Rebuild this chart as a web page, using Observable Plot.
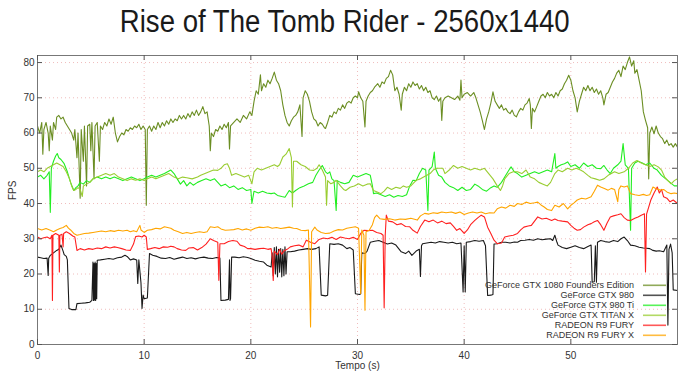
<!DOCTYPE html>
<html><head><meta charset="utf-8">
<script src="https://cdn.jsdelivr.net/npm/d3@7"></script>
<script src="https://cdn.jsdelivr.net/npm/@observablehq/plot@0.6"></script>
<style>
html,body{margin:0;padding:0;background:#fff;}
#wrap{position:relative;width:690px;height:377px;overflow:hidden;font-family:"Liberation Sans",Arial,sans-serif;}
#title{height:45px;text-align:center;white-space:nowrap;}
#title span{display:inline-block;font-size:31px;line-height:31px;padding-top:6px;color:#1a1a1a;transform:scaleX(0.89);transform-origin:center;}
.lg-text{position:absolute;right:56px;font-size:9px;line-height:10px;color:#333;white-space:nowrap;}
#lgsvg{position:absolute;left:0;top:0;pointer-events:none;}
</style></head><body>
<div id="wrap"><div id="title"><span>Rise of The Tomb Rider - 2560x1440</span></div><div id="chart"></div></div>
<script>
const seriesNames = ["GeForce GTX 1080 Founders Edition","GeForce GTX 980","GeForce GTX 980 Ti","GeForce GTX TITAN X","RADEON R9 FURY","RADEON R9 FURY X"];
const seriesColors = ["#6b8e23","#1a1a1a","#22ee22","#9acd32","#ff2020","#ffa500"];
const xTicks = [0,10,20,30,40,50];
const yTicks = [0,10,20,30,40,50,60,70,80];

const gtx1080 = [[0,62],[0.2,60],[0.4,63],[0.5,54],[0.6,61],[0.8,63],[1,60],[1.1,55],[1.2,62],[1.4,58],[1.5,63],[1.7,61],[1.8,64.5],[2,65],[2.2,64],[2.4,64.5],[2.6,63],[2.8,62],[3,61],[3.2,60],[3.4,58],[3.5,61],[3.7,53],[3.8,60],[4,41.5],[4.1,61],[4.3,52],[4.4,62],[4.6,45],[4.7,62],[4.9,62.5],[5,55],[5.1,63],[5.3,47],[5.4,62],[5.6,63],[5.8,52],[5.9,62],[6.1,61],[6.3,63],[6.5,62],[6.7,64],[6.9,62.5],[7.1,64.5],[7.3,60],[7.5,57.5],[7.7,59],[7.9,60],[8.1,59.5],[8.3,61],[8.5,60.5],[8.7,61.5],[8.9,61],[9.1,62],[9.3,61.5],[9.5,62.5],[9.7,61],[9.9,62],[10.1,61],[10.2,39.5],[10.3,61],[10.5,62],[10.7,60.5],[10.9,62],[11.1,61],[11.3,63],[11.5,61.5],[11.7,63],[11.9,62],[12.1,63.5],[12.3,62.5],[12.5,64],[12.7,63],[12.9,64],[13.1,63.5],[13.3,65],[13.5,64],[13.7,65],[13.9,64],[14.1,65.5],[14.3,64.5],[14.5,66],[14.7,65],[14.9,66.5],[15.1,65],[15.3,66],[15.5,67.5],[15.7,65.5],[15.9,66],[16.1,62],[16.2,55],[16.3,60],[16.5,59],[16.7,61],[16.9,60.5],[17.1,62],[17.3,61],[17.5,62.5],[17.7,61.5],[17.9,63],[18,55.5],[18.1,62],[18.4,63],[18.7,64],[19,63],[19.3,65],[19.6,64],[19.9,66],[20.1,65],[20.3,69],[20.5,72],[20.7,71],[20.9,76.5],[21,72],[21.2,74],[21.4,73],[21.6,75],[21.8,74],[22,75.5],[22.2,77.3],[22.4,75],[22.6,74],[22.8,72],[23,68],[23.2,65],[23.4,63],[23.6,62],[23.8,63.5],[24,64.5],[24.2,65],[24.4,66],[24.6,68],[24.8,59],[24.9,70],[25.1,72],[25.3,71],[25.5,69],[25.7,66],[25.9,64],[26.1,63.5],[26.3,62],[26.5,63],[26.7,62.5],[26.9,61.5],[27,61.3],[27.2,63],[27.4,65],[27.6,64.5],[27.8,66],[28,65.5],[28.2,67],[28.4,66.5],[28.6,68],[28.8,67],[29,68.5],[29.2,69],[29.4,68.5],[29.6,70],[29.8,70.5],[30,70],[30.1,71.7],[30.3,70],[30.5,69],[30.7,61.7],[30.8,69],[31,70.5],[31.2,71.5],[31.4,72],[31.6,73],[31.9,74],[32.1,73],[32.3,74.5],[32.5,74],[32.7,75.5],[32.9,76],[33.1,77.8],[33.3,76.5],[33.5,72],[33.7,73],[33.9,71],[34.1,66.5],[34.2,71],[34.4,73],[34.6,72],[34.8,74],[35,73],[35.2,74.5],[35.4,73.5],[35.6,74],[35.8,72.5],[36,73.5],[36.2,72],[36.4,73],[36.6,71.5],[36.8,72],[37,70],[37.2,69.5],[37.4,70.5],[37.6,69],[37.8,70],[37.9,63.6],[38,69],[38.2,70],[38.5,70.5],[38.8,70],[39.1,69.5],[39.4,70.5],[39.6,69.3],[39.7,75],[39.8,70],[40,71],[40.3,71.5],[40.6,70.5],[40.9,71.5],[41.1,70],[41.3,68],[41.5,66],[41.7,63.6],[41.9,61],[42.1,64],[42.3,66],[42.5,68.5],[42.7,71.7],[42.9,69],[43.1,68],[43.3,67],[43.5,68],[43.7,66.5],[43.9,67],[44.1,66],[44.3,65.5],[44.5,66.5],[44.7,65],[44.9,64.6],[45.1,66],[45.3,67],[45.5,66.5],[45.7,68],[45.9,68.5],[46.1,69.8],[46.2,68],[46.3,61.3],[46.4,67],[46.6,66],[46.8,67.5],[47,69],[47.2,70.5],[47.4,71],[47.6,70],[47.8,71.5],[48,70.5],[48.2,71],[48.4,70],[48.6,71.5],[48.8,70.5],[49,72],[49.2,72.5],[49.4,74],[49.6,75],[49.8,76.4],[50,75],[50.2,72],[50.4,70],[50.6,66],[50.8,69],[51,71],[51.2,73],[51.4,72],[51.6,73.5],[51.8,72],[52,73],[52.2,71.5],[52.4,72.5],[52.6,71],[52.8,72],[53,70],[53.1,68],[53.3,71],[53.5,71.5],[53.7,73],[53.9,74.5],[54.1,75.5],[54.3,77],[54.5,77.8],[54.7,76],[54.9,79],[55.1,78],[55.3,80],[55.5,81.6],[55.7,79],[55.9,80.5],[56,77],[56.2,78],[56.4,75],[56.6,72],[56.8,66],[57,63.6],[57.2,61.5],[57.3,47],[57.4,60],[57.6,61.7],[57.8,59.8],[58,62],[58.2,60],[58.4,59],[58.6,58.4],[58.8,57],[59,58],[59.2,56.5],[59.4,57],[59.6,56],[59.8,57],[60,56]];

const gtx980 = [[0,24.8],[0.3,24.6],[0.6,24.4],[0.9,24.5],[1,19.6],[1.05,24.5],[1.2,25.3],[1.5,26],[1.8,26.7],[2,27],[2.2,28.2],[2.4,26.5],[2.5,25.5],[2.7,25],[2.8,24],[2.95,10.2],[3.2,9.9],[3.6,9.9],[3.7,11.6],[4.1,11.7],[4.5,11.8],[4.9,12],[5.1,12.5],[5.2,23.4],[5.25,12.5],[5.3,23],[5.35,12.6],[5.4,23.4],[5.45,12.5],[5.5,23],[5.55,13],[5.6,23.9],[5.9,24],[6.3,24.2],[6.7,24.4],[7.1,24.2],[7.5,24.6],[7.9,24.8],[8.2,25.3],[8.4,25],[8.7,24],[9,24.3],[9.3,24],[9.4,17.3],[9.5,24],[9.7,17.5],[9.8,10.2],[9.9,14],[10,13],[10.3,13.2],[10.5,25.8],[10.8,25.3],[11.2,25],[11.6,24.5],[12,24.4],[12.4,24.7],[12.8,24.2],[13.2,24.5],[13.6,24.8],[14,24.4],[14.4,24.6],[14.8,24.3],[15.2,24.6],[15.6,24.8],[16,24.5],[16.4,24.4],[16.8,24.7],[17.1,24.5],[17.2,12.5],[17.6,12.6],[17.9,12.8],[18,24],[18.05,12.5],[18.1,13],[18.2,24.8],[18.5,24.8],[18.9,24.6],[19.3,24.9],[19.7,24.7],[20,24.4],[20.4,23.9],[20.8,23.6],[21.2,23.4],[21.5,22.5],[21.9,22],[22,26],[22.1,19.5],[22.2,27.5],[22.3,20],[22.4,27.7],[22.5,19.2],[22.6,27],[22.7,20.5],[22.8,27.2],[22.9,19.2],[23,27],[23.1,19.5],[23.2,27.7],[23.3,20],[23.4,26.3],[23.7,26.3],[24.1,26.5],[24.5,26.8],[24.9,27],[25.3,27.2],[25.7,27],[26.1,27.2],[26.4,27.7],[26.6,14],[27,13.8],[27.2,14],[27.4,28.6],[27.8,28.4],[28.2,28.6],[28.6,28.2],[29,27.2],[29.3,27.5],[29.6,26.8],[29.8,14.4],[30.2,14.2],[30.3,14.4],[30.4,26],[30.7,25.8],[30.9,26.5],[31.2,29],[31.6,29.3],[32,29.5],[32.4,29],[32.8,28.5],[33.2,28.8],[33.6,28.2],[34.1,26.3],[34.5,25.8],[34.8,26.5],[35.1,25.3],[35.5,26.5],[35.8,27],[35.9,19.3],[36,28],[36.1,28.6],[36.5,28.8],[36.9,29],[37.3,28.8],[37.7,29.2],[38.1,29],[38.5,28.8],[38.9,29],[39.3,28.6],[39.7,28.8],[39.9,14.9],[40,28],[40.1,14.9],[40.2,29],[40.6,29.2],[41,29.5],[41.4,29.3],[41.8,29.5],[42,28],[42.2,13.9],[42.5,14],[42.7,14.2],[42.8,28.5],[43.1,28.6],[43.5,29],[43.9,29],[44.3,28.8],[44.7,29.1],[45,29],[45.3,29.5],[45.7,29.6],[46.1,29.8],[46.5,29.6],[46.9,30],[47.3,29.7],[47.7,29.9],[48.1,30],[48.3,29.5],[48.5,31],[48.7,29],[48.8,28.2],[49.2,27.5],[49.6,27.2],[50,27.6],[50.4,28],[50.8,27.5],[51.2,27.2],[51.6,27.8],[51.9,28.2],[52,17.7],[52.2,17.8],[52.3,28],[52.4,17.7],[52.5,29],[52.8,29.5],[53.2,29.2],[53.6,29],[54,29.5],[54.4,29.2],[54.7,30],[55,30.5],[55.3,29.5],[55.6,28.2],[56,28],[56.4,27.6],[56.8,27.4],[57.1,27.3],[57.4,27.2],[57.7,26.7],[58,26.5],[58.3,26.6],[58.7,26.3],[59,28.2],[59.1,5.5],[59.2,27],[59.35,28.5],[59.5,26],[59.6,15.5],[60,15.3]];

const gtx980ti = [[0,47.5],[0.3,48],[0.6,47],[0.9,48],[1.1,49],[1.2,37.5],[1.3,50],[1.5,52],[1.7,53.5],[1.85,54.2],[2,53],[2.2,52.5],[2.5,51.3],[2.8,49],[3.1,46],[3.4,43.7],[3.6,44.5],[3.8,45],[4,46],[4.3,45.5],[4.6,46.5],[4.9,46],[5.2,47],[5.6,47.5],[6,47],[6.4,47.5],[6.8,47],[7.2,47.5],[7.6,47],[8,46.5],[8.4,47],[8.8,47.5],[9.2,47],[9.6,46.5],[10,47],[10.3,47.5],[10.7,48],[11.1,47.5],[11.5,48],[11.9,48.5],[12.2,49],[12.5,49.5],[12.8,48.5],[13.1,47],[13.4,45.5],[13.7,46.5],[14,45],[14.3,46],[14.6,45.2],[15,46],[15.4,46.5],[15.8,47],[16.2,46.5],[16.6,47],[16.9,46],[17.2,45],[17.6,45.5],[18,44.5],[18.4,45],[18.8,44],[19.2,44.5],[19.6,43.7],[20,44],[20.1,40],[20.3,43.5],[20.7,43],[21.1,43.5],[21.5,43],[21.9,42.8],[22.2,43],[22.5,42.3],[22.9,42],[23.2,41.8],[23.6,43.7],[23.9,43],[24.2,43.7],[24.6,44.5],[25,45],[25.4,45.6],[25.8,46],[26.1,48],[26.4,49.5],[26.7,50.8],[27,49],[27.2,48.5],[27.4,49],[27.6,47],[27.8,46.5],[28,38],[28.1,46.5],[28.4,46],[28.8,45.6],[29.2,46],[29.6,48],[30,47.5],[30.4,48],[30.8,48.5],[31.2,48],[31.4,45],[31.5,42.8],[31.8,43],[32.2,42.5],[32.6,42],[33,42.5],[33.4,41.8],[33.8,42.3],[34.2,42],[34.6,42.5],[34.9,45],[35.2,46.6],[35.5,46.5],[35.8,48.5],[36.1,50],[36.4,49.5],[36.6,38],[36.7,49.5],[37,50.5],[37.2,54.6],[37.3,50],[37.6,48],[37.9,47.5],[38.2,46],[38.6,45],[39,44.5],[39.4,43.7],[39.8,44.6],[40.2,43.7],[40.6,44],[41,45.5],[41.3,45],[41.7,44],[42.1,43.5],[42.5,44.5],[42.8,45],[43.1,44.6],[43.5,46],[43.9,48],[44.2,49.5],[44.4,50.4],[44.7,49],[45,48.5],[45.4,47.5],[45.8,48],[46.2,48.5],[46.6,49],[47,48.5],[47.4,49],[47.8,49.5],[48.2,49],[48.5,54.2],[48.6,50],[48.8,50.5],[49.1,51],[49.4,51.3],[49.7,51.8],[50,50.5],[50.4,51],[50.8,50],[51.2,51.5],[51.6,50.5],[52,51],[52.4,50],[52.8,49.9],[53.1,50.8],[53.4,49.5],[53.7,48.5],[54,50],[54.4,51],[54.7,52],[54.9,57],[55.1,51],[55.4,50],[55.6,32.4],[55.7,50],[56,51.5],[56.3,52],[56.7,51.5],[57,51],[57.4,51.5],[57.8,50],[58.1,49.5],[58.5,48],[58.9,47],[59.3,46],[59.7,45],[60,45]];

const titanX = [[0,49],[0.3,49.5],[0.6,49],[0.9,50],[1.2,50.5],[1.5,51],[1.8,51.5],[2.1,51],[2.4,50.5],[2.7,49],[3,47],[3.2,45],[3.4,43.7],[3.6,44],[3.8,44.5],[4,44],[4.2,42],[4.3,45],[4.6,45.5],[4.9,46],[5.2,47],[5.6,47.5],[6,48],[6.4,48.5],[6.8,48],[7.2,48.5],[7.6,47.5],[8,47],[8.4,46.5],[8.8,47],[9.2,46.6],[9.6,47],[10,46.5],[10.3,47],[10.7,47.5],[11.1,47],[11.5,47.5],[11.9,48],[12.3,48.5],[12.8,47.5],[13.2,47],[13.6,47.5],[14,47.3],[14.5,47],[15,47.5],[15.3,48],[15.7,48.5],[16.1,49],[16.5,49.5],[16.9,49.4],[17.2,50],[17.5,51],[17.8,51.3],[18,50],[18.2,48],[18.6,48.5],[19,48],[19.4,47.5],[19.8,48],[20.1,45.6],[20.3,49],[20.6,50],[21,49.5],[21.4,50],[21.8,50.5],[22.2,51],[22.5,50.5],[22.7,51],[23,53.2],[23.3,54],[23.6,55.6],[23.8,53],[23.9,39],[24,52],[24.3,52],[24.7,51],[25.1,50.5],[25.5,49.5],[25.9,49.4],[26.2,50],[26.4,51],[26.7,49.5],[27,47.5],[27.1,39.5],[27.2,46.5],[27.5,45.6],[27.8,46],[28,46.6],[28.4,45],[28.7,44],[28.9,43.7],[29.3,44.6],[29.7,45],[30.1,45.6],[30.5,45],[30.9,45.5],[31.2,45.6],[31.5,43.7],[31.9,43.2],[32.2,42.8],[32.5,43.5],[32.8,44.6],[33.2,44],[33.6,44.6],[34,44.3],[34.3,45],[34.6,44.6],[35,45],[35.5,46.6],[35.9,47],[36.2,47.5],[36.5,48],[36.8,48.5],[37.1,49.5],[37.4,50],[37.7,50],[38,50],[38.2,48.5],[38.6,49.5],[39,50.8],[39.4,50],[39.8,50.5],[40.2,50],[40.6,49.5],[41,50],[41.5,49.5],[41.9,50],[42.3,48.5],[42.7,47],[43.1,45],[43.4,43.7],[43.6,45],[43.8,47],[44.2,48.5],[44.6,49],[45,49],[45.4,48.5],[45.8,49.5],[46.2,47.5],[46.6,47],[47,46],[47.4,45.5],[47.8,45],[48.1,46],[48.5,48.5],[48.8,49.5],[49.2,49],[49.7,50],[50.1,49.5],[50.5,50],[50.9,49.5],[51.2,49],[51.6,48],[51.9,47.3],[52.3,47],[52.7,46.6],[53.1,47],[53.5,48],[54.1,49],[54.5,48.5],[55,49],[55.4,50],[55.8,51.5],[56.2,52.2],[56.6,51.5],[57,51],[57.4,50.5],[57.8,51],[58.2,50.4],[58.5,49.5],[58.8,47.5],[59.1,46.5],[59.4,45.6],[59.7,46.5],[60,47]];

const r9Fury = [[0,30.5],[0.3,30],[0.6,30.3],[0.9,30.5],[1.2,30],[1.35,31],[1.4,12.5],[1.45,31],[1.7,31.5],[2,31],[2.05,20.6],[2.1,31],[2.3,31.3],[2.4,27.7],[2.45,31.5],[2.7,32],[3,31.5],[3.3,30.8],[3.5,30.5],[3.7,26.7],[4,27.2],[4.4,26.8],[4.8,27.2],[5.2,27],[5.6,27.4],[6,27.2],[6.4,27.7],[6.8,27.4],[7.2,27.7],[7.5,27.5],[7.9,27.2],[8.3,26.8],[8.7,26.7],[9,28.5],[9.2,30.6],[9.5,30.8],[9.8,30.5],[10,31],[10.2,30.5],[10.3,27],[10.6,27.2],[11,27.5],[11.4,27.2],[11.8,27.7],[12.2,27.6],[12.5,27.9],[12.8,27.7],[13.1,27.2],[13.5,26.8],[13.9,26.7],[14.2,27.4],[14.6,27.5],[15,26.8],[15.4,27.5],[15.8,28.5],[16.2,30],[16.5,29.5],[16.9,29],[17,18.2],[17.1,28.6],[17.5,28.6],[17.9,29.2],[18.3,29.5],[18.7,29.3],[19,28.2],[19.4,27.8],[19.7,27.2],[20,27.2],[20.4,27],[20.8,27.2],[21.2,27.3],[21.6,27],[21.9,27.2],[22,25],[22.1,18.2],[22.2,26.5],[22.5,25.5],[22.7,27],[22.9,25.6],[23.1,26.5],[23.4,27],[23.7,27.7],[24.1,28],[24.5,28.2],[24.9,27.7],[25.2,29.6],[25.6,29],[26,28.6],[26.4,29.8],[26.8,30.2],[27.2,30],[27.6,30.4],[28,29.8],[28.4,30.5],[28.8,30.2],[29.2,30],[29.6,30.4],[30,29.8],[30.3,31.5],[30.6,32.4],[31,32.3],[31.4,32.4],[31.8,31.8],[32.2,31.5],[32.4,31],[32.5,10.4],[32.6,31],[32.7,36.7],[32.9,35],[33.3,34.8],[33.7,34],[34.1,34.3],[34.5,33.5],[34.9,33.4],[35.2,32.4],[35.6,31.6],[35.9,33.5],[36.3,35.3],[36.7,34.8],[37.1,35.3],[37.5,34.5],[37.9,35],[38.3,34.3],[38.7,34.5],[39,33.5],[39.3,32.4],[39.6,32.9],[40,31.5],[40.3,32.5],[40.6,34],[41,35.2],[41.3,36],[41.6,36.7],[41.9,36.2],[42.2,33.3],[42.5,31.5],[42.8,29.6],[43.1,28.6],[43.5,28.8],[43.8,30.5],[44.2,30.8],[44.6,31],[45,31.5],[45.3,32.5],[45.6,33.3],[46,33.6],[46.3,33.8],[46.6,35],[46.9,36.2],[47.3,35.6],[47.7,35.8],[48.2,35.2],[48.5,35.6],[48.8,35.2],[49.2,35],[49.7,34.8],[50,33.8],[50.3,33],[50.6,32.4],[50.9,32.6],[51.2,33.3],[51.6,34],[51.9,34.3],[52.2,34.8],[52.5,35.2],[52.8,34],[53.1,32.4],[53.4,34.5],[53.7,36.2],[54,36.5],[54.4,36.8],[54.7,37.1],[55,36],[55.3,35.3],[55.6,35.2],[56,35.8],[56.3,36.2],[56.6,36.7],[56.9,37.1],[57,20.6],[57.1,37],[57.3,39],[57.5,41],[57.8,43],[58.1,44.7],[58.3,43],[58.5,44],[58.7,41.9],[59,41.5],[59.3,40.5],[59.6,41],[60,40]];

const r9FuryX = [[0,32.9],[0.4,32.5],[0.8,32.9],[1.2,32.4],[1.5,32],[1.8,32.5],[2.1,32.9],[2.4,33.2],[2.7,33.8],[2.9,33],[3.1,32.5],[3.4,31.5],[3.7,31],[4,31.2],[4.4,31.5],[4.8,31.6],[5.2,31.8],[5.6,32],[6,32.2],[6.4,32],[6.8,32.3],[7.2,32.1],[7.6,32.4],[8,32.2],[8.4,32.4],[8.7,32],[9,32.3],[9.3,32],[9.6,33.8],[9.7,32.5],[10,31.8],[10.3,32.4],[10.7,32.6],[11.1,33],[11.5,32.8],[11.9,33.4],[12.2,33.2],[12.5,33],[12.8,32.4],[13.2,32],[13.6,31.5],[14,31.8],[14.4,31.5],[14.8,31.8],[15.2,32],[15.6,31.8],[15.9,32],[16.2,33.4],[16.6,33.2],[16.9,33.4],[17.2,32.8],[17.6,32.4],[18,32.5],[18.4,32.6],[18.8,32.9],[19.2,32.5],[19.6,32.8],[20,32.4],[20.4,33],[20.8,33.3],[21.2,33.2],[21.6,33.4],[22,33],[22.4,33.2],[22.8,32.9],[23.2,33.1],[23.6,33.3],[24,33],[24.3,32.9],[24.7,32.4],[25.1,32.3],[25.4,32.5],[25.6,5],[25.7,32],[26,33.3],[26.2,32.5],[26.6,31.8],[27,31.5],[27.4,31.6],[27.8,32.2],[28.2,32.6],[28.6,32.5],[29,33],[29.4,33.2],[29.8,33.4],[30.1,33],[30.3,14.4],[30.4,32.5],[30.6,31],[30.7,9.7],[30.8,32],[31.1,32.4],[31.4,34],[31.6,36],[31.8,36.7],[32.1,35.7],[32.5,35.5],[33,35.7],[33.5,35.3],[34,35.6],[34.5,35.5],[35,35.8],[35.6,35.3],[35.9,36.5],[36.3,37.2],[36.7,37],[37.1,37.4],[37.5,37.2],[37.9,37.6],[38.3,37.4],[38.8,37.6],[39.2,37.2],[39.6,37.6],[40,36.9],[40.4,37.3],[40.8,37.6],[41.2,37.3],[41.6,37.6],[42,37.1],[42.4,37.4],[42.8,37.3],[43.1,38.5],[43.5,39],[43.9,38.7],[44.3,39.5],[44.7,39.2],[45,40],[45.4,39.7],[45.8,40.4],[46.2,40],[46.6,40.2],[46.9,40.4],[47.2,39.6],[47.5,39],[47.8,38.3],[48.2,38],[48.5,39.5],[48.9,39],[49.3,40],[49.7,38.5],[50,39.5],[50.3,40.2],[50.6,41],[51,41.5],[51.4,41.3],[51.9,41.9],[52.2,43.5],[52.5,45.2],[52.8,44.7],[53.2,44.2],[53.5,43.8],[53.8,44.3],[54.1,44],[54.4,40.5],[54.5,44],[54.7,45],[55,44.7],[55.3,45],[55.6,42.8],[56,42.5],[56.4,42.3],[56.8,42.6],[57.1,42.3],[57.4,42.5],[57.7,44.7],[58,44.2],[58.4,43.8],[58.7,44],[59,43.3],[59.4,42.8],[59.7,43],[60,42.8]];

const seriesData = [gtx1080, gtx980, gtx980ti, titanX, r9Fury, r9FuryX];
const rows = seriesData.flatMap((arr, i) => arr.map(([t, fps]) => ({t, fps, s: seriesNames[i]})));

const W = 690, H = 332, mL = 37, mR = 13, mT = 10, mB = 33;
const fw = W - mL - mR, fh = H - mT - mB;
const grid = {stroke: "#f0bcbc", strokeOpacity: 1, strokeDasharray: "1,3"};

const chart = Plot.plot({
  width: W, height: H,
  marginLeft: mL, marginRight: mR, marginTop: mT, marginBottom: mB,
  style: {fontFamily: "Liberation Sans, Arial, sans-serif", fontSize: "10px", color: "#333", background: "#fff"},
  x: {domain: [0, 60]},
  y: {domain: [0, 82]},
  color: {domain: seriesNames, range: seriesColors},
  marks: [
    Plot.ruleY(yTicks.slice(1), {y: d => d, ...grid}),
    Plot.ruleX(xTicks.slice(1), {x: d => d, ...grid}),
    Plot.line(rows, {x: "t", y: "fps", z: "s", stroke: "s", strokeWidth: 1.1}),
    Plot.frame({stroke: "#777"}),
    Plot.tickX(xTicks, {x: d => d, insetTop: fh - 5, stroke: "#555"}),
    Plot.tickX(xTicks, {x: d => d, insetBottom: fh - 5, stroke: "#555"}),
    Plot.tickY(yTicks, {y: d => d, insetRight: fw - 5, stroke: "#555"}),
    Plot.tickY(yTicks, {y: d => d, insetLeft: fw - 5, stroke: "#555"}),
    Plot.axisX(xTicks, {tickSize: 0, tickPadding: 7, label: null, fill: "#333"}),
    Plot.axisY(yTicks, {tickSize: 0, tickPadding: 3, label: null, fill: "#333"}),
    Plot.text(["FPS"], {frameAnchor: "left", dx: -25, rotate: -90, text: d => d, fill: "#333"}),
    Plot.text(["Tempo (s)"], {frameAnchor: "bottom", dy: 24, text: d => d, fill: "#333"})
  ]
});
document.getElementById("chart").appendChild(chart);

const wrap = document.getElementById("wrap");
const lg = d3.select(wrap).append("svg").attr("id", "lgsvg").attr("width", 690).attr("height", 377);
seriesNames.forEach((name, i) => {
  const cy = 284.7 + 10 * i;
  const t = document.createElement("div");
  t.className = "lg-text";
  t.style.top = (cy - 5) + "px";
  t.textContent = name;
  wrap.appendChild(t);
  lg.append("rect")
    .attr("x", 643).attr("width", 23)
    .attr("y", Math.round(cy) - 0.5).attr("height", 1.6)
    .attr("fill", seriesColors[i]).attr("fill-opacity", 0.75);
});
</script>
</body></html>
